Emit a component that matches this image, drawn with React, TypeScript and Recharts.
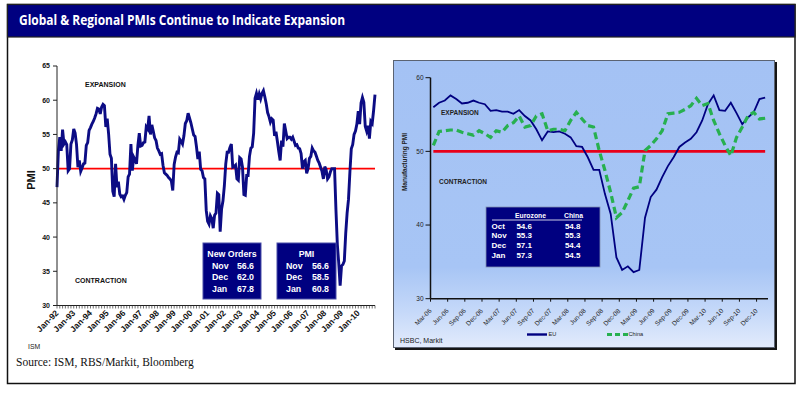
import React from "react";
import { LineChart, Line, XAxis, YAxis, ReferenceLine } from "recharts";

const MONTH_NAMES = ["Jan", "Feb", "Mar", "Apr", "May", "Jun", "Jul", "Aug", "Sep", "Oct", "Nov", "Dec"];

// ISM manufacturing PMI, monthly, Jan-92 .. Jan-11
const ism1992 = [47.3, 52.7, 54.6, 52.6, 55.7, 53.6, 53.9, 53.5, 49.7, 50.0, 53.6, 54.2];
const ism1993 = [55.8, 55.2, 53.5, 50.2, 51.2, 49.6, 50.1, 50.7, 50.8, 53.4, 53.8, 55.6];
const ism1994 = [56.0, 56.5, 56.9, 57.4, 58.0, 58.8, 58.7, 58.0, 59.0, 59.4, 59.2, 56.1];
const ism1995 = [57.3, 55.1, 52.1, 51.5, 46.7, 45.9, 50.7, 47.3, 48.1, 46.3, 45.9, 46.0];
const ism1996 = [45.5, 46.1, 46.5, 48.8, 49.2, 53.6, 49.7, 51.7, 51.3, 50.7, 53.4, 55.2];
const ism1997 = [53.3, 53.4, 53.8, 53.9, 56.1, 55.8, 57.7, 55.0, 56.4, 55.5, 54.5, 54.1];
const ism1998 = [53.0, 52.6, 52.1, 52.2, 50.5, 49.4, 49.2, 49.0, 48.7, 48.5, 48.2, 46.8];
const ism1999 = [50.6, 51.7, 52.4, 52.3, 54.3, 54.0, 53.6, 54.8, 56.6, 57.0, 58.1, 57.4];
const ism2000 = [56.7, 55.8, 54.9, 54.7, 53.2, 51.4, 52.5, 49.9, 49.7, 48.7, 48.5, 43.9];
const ism2001 = [42.3, 41.9, 43.1, 42.7, 41.3, 43.2, 43.5, 46.4, 46.2, 40.8, 44.1, 45.3];
const ism2002 = [47.5, 50.7, 52.4, 52.4, 53.1, 53.6, 50.2, 50.3, 50.5, 48.5, 48.3, 51.6];
const ism2003 = [51.4, 50.2, 46.2, 46.1, 49.0, 49.0, 51.8, 53.0, 53.2, 55.2, 60.3, 61.0];
const ism2004 = [60.1, 60.9, 60.2, 61.0, 61.4, 60.5, 59.5, 58.2, 57.6, 56.8, 57.3, 57.1];
const ism2005 = [54.8, 55.4, 54.0, 52.5, 51.2, 54.1, 53.2, 56.6, 55.5, 54.4, 54.6, 54.6];
const ism2006 = [54.3, 54.6, 54.0, 53.4, 53.5, 53.0, 52.9, 52.2, 50.0, 51.0, 51.2, 49.3];
const ism2007 = [50.0, 51.5, 51.8, 53.0, 52.6, 52.4, 51.8, 51.2, 50.8, 50.2, 49.6, 48.5];
const ism2008 = [50.3, 49.8, 48.5, 48.8, 49.5, 50.0, 50.0, 50.0, 44.0, 38.9, 36.2, 32.9];
const ism2009 = [35.8, 36.0, 36.5, 40.5, 43.5, 45.5, 49.5, 52.9, 53.5, 55.0, 55.5, 56.5];
const ism2010 = [58.4, 56.5, 59.6, 60.4, 59.7, 56.2, 55.5, 56.3, 54.4, 56.9, 56.6, 58.5];
const ism2011 = [60.8];

const ismTickLabels = [
  "Jan-92", "Jan-93", "Jan-94", "Jan-95", "Jan-96", "Jan-97", "Jan-98", "Jan-99", "Jan-00", "Jan-01",
  "Jan-02", "Jan-03", "Jan-04", "Jan-05", "Jan-06", "Jan-07", "Jan-08", "Jan-09", "Jan-10",
];
const ismYTicks = [30, 35, 40, 45, 50, 55, 60, 65];

// HSBC / Markit manufacturing PMI, monthly, Mar-06 .. Jan-11
const euPmi = [
  56.0, 56.6, 56.9, 57.6, 57.1, 56.5, 56.6, 56.9, 56.6, 56.4,
  55.5, 55.6, 55.4, 55.4, 55.1, 55.6, 54.8, 54.2, 53.0, 51.5, 52.7, 52.6,
  52.7, 52.4, 51.9, 50.7, 50.6, 49.2, 47.5, 47.5, 44.2, 41.5, 35.6, 33.9,
  34.4, 33.6, 33.9, 41.0, 43.8, 44.8, 46.5, 48.0, 49.2, 50.6, 51.2, 51.7,
  52.6, 54.2, 56.4, 57.6, 55.6, 55.5, 56.6, 55.2, 53.7, 54.6, 55.3, 57.1,
  57.3,
];
const chinaPmi = [
  50.8, 52.7, 52.8, 52.9, 52.9, 52.6, 52.4, 52.2, 52.8, 52.4,
  51.9, 52.8, 52.6, 53.5, 53.9, 54.8, 53.3, 53.5, 54.8, 55.1, 52.8, 53.0,
  53.0, 52.8, 54.2, 55.3, 54.4, 53.5, 53.3, 50.1, 47.4, 44.4, 41.0, 41.7,
  43.3, 45.0, 45.2, 50.1, 50.8, 51.7, 52.8, 55.1, 55.2, 55.3, 55.7, 56.2,
  57.2, 56.2, 56.5, 54.2, 52.4, 50.8, 49.4, 51.9, 53.3, 54.8, 55.3, 54.4,
  54.5,
];
const hsbcTickLabels = [
  "Mar-06", "Jun-06", "Sep-06", "Dec-06", "Mar-07", "Jun-07", "Sep-07", "Dec-07", "Mar-08", "Jun-08",
  "Sep-08", "Dec-08", "Mar-09", "Jun-09", "Sep-09", "Dec-09", "Mar-10", "Jun-10", "Sep-10", "Dec-10",
];
const hsbcYTicks = [30, 40, 50, 60];

const tableMonths = ["Oct", "Nov", "Dec", "Jan"];
const tableEurozone = ["54.6", "55.3", "57.1", "57.3"];
const tableChina = ["54.8", "55.3", "54.4", "54.5"];
const newOrdersRows = [["Nov", "56.6"], ["Dec", "62.0"], ["Jan", "67.8"]];
const pmiRows = [["Nov", "56.6"], ["Dec", "58.5"], ["Jan", "60.8"]];

const monthLabel = (startYear: number, offset: number) =>
  `${MONTH_NAMES[offset % 12]}-${String((startYear + Math.floor(offset / 12)) % 100).padStart(2, "0")}`;

const ismValues = [
  ...ism1992, ...ism1993, ...ism1994, ...ism1995, ...ism1996, ...ism1997, ...ism1998, ...ism1999, ...ism2000,
  ...ism2001, ...ism2002, ...ism2003, ...ism2004, ...ism2005, ...ism2006, ...ism2007, ...ism2008, ...ism2009,
  ...ism2010, ...ism2011,
];
const ismData = ismValues.map((pmi, i) => ({ month: monthLabel(1992, i), pmi }));
// Mar-06 is month index 2 of 2006
const hsbcData = euPmi.map((eu, i) => ({ month: monthLabel(2006, i + 2), eu, china: chinaPmi[i] }));

const FONT = '"Liberation Sans", Arial, sans-serif';
const NAVY = "#000080";
const HSBC_PAD = 2.85;

function IsmTick(props: any) {
  const { x, y, payload, index } = props;
  const label: string = payload.value;
  return (
    <g>
      {index % 2 === 0 && <line x1={x} y1={y} x2={x} y2={y + 3} stroke="#333" strokeWidth={0.7} />}
      {ismTickLabels.includes(label) && (
        <text x={x} y={y + 6} dy="0.35em" transform={`rotate(-45 ${x} ${y + 6})`} textAnchor="end"
          fontSize={8.5} fontWeight="bold" fill="#111" fontFamily={FONT}>{label}</text>
      )}
    </g>
  );
}

function HsbcTick(props: any) {
  const { x, y, payload } = props;
  const label: string = payload.value;
  if (!hsbcTickLabels.includes(label)) return <g />;
  return (
    <g>
      <line x1={x - HSBC_PAD} y1={y} x2={x - HSBC_PAD} y2={y + 3} stroke="#111" strokeWidth={1} />
      <text x={x - 3} y={y + 11} dy="0.35em" transform={`rotate(-45 ${x - 3} ${y + 11})`} textAnchor="end"
        fontSize={6.5} fill="#222" fontFamily={FONT}>{label}</text>
    </g>
  );
}

function NoteBox({ x, y, w, h, title, rows }: { x: number; y: number; w: number; h: number; title: string; rows: string[][] }) {
  return (
    <g fontFamily={FONT} fontWeight="bold" fill="#fff" fontSize={8.8}>
      <rect x={x} y={y} width={w} height={h} fill={NAVY} stroke="#4a4ea8" strokeWidth={1} />
      <text x={x + w / 2} y={y + 14} textAnchor="middle">{title}</text>
      {rows.map((r, i) => (
        <g key={r[0]}>
          <text x={x + 9} y={y + 25.5 + i * 11.5}>{r[0]}</text>
          <text x={x + w - 7} y={y + 25.5 + i * 11.5} textAnchor="end">{r[1]}</text>
        </g>
      ))}
    </g>
  );
}

export default function App() {
  return (
    <div style={{ position: "absolute", left: 0, top: 0, width: 800, height: 393, background: "#fff", overflow: "hidden" }}>
      <div style={{
        position: "absolute", left: 393, top: 60, width: 382, height: 288, boxSizing: "border-box",
        border: "1px solid #5b6372", boxShadow: "2px 2px 0 #151515",
        background: "linear-gradient(to bottom, #a4c2f4 0%, #a7c5f5 72%, #c6d9f9 88%, #e2ebfc 100%)",
      }} />

      <div style={{ position: "absolute", left: 0, top: 0 }}>
        <LineChart width={390} height={340} data={ismData} margin={{ top: 66, right: 15, bottom: 0, left: 0 }}>
          <XAxis dataKey="month" interval={0} tickSize={0} tickMargin={0} tick={<IsmTick />} height={34.5}
            axisLine={{ stroke: "#222", strokeWidth: 1 }} tickLine={false} />
          <YAxis domain={[30, 65]} ticks={ismYTicks} width={57} tickSize={4} tickMargin={3}
            tick={{ fontSize: 7, fontWeight: "bold", fill: "#111", fontFamily: FONT }}
            axisLine={{ stroke: "#222" }} tickLine={{ stroke: "#222" }} />
          <ReferenceLine y={50} stroke="#ff0000" strokeWidth={1.8} />
          <Line dataKey="pmi" stroke="#0c0c84" strokeWidth={2.9} dot={false} isAnimationActive={false} />
        </LineChart>
      </div>

      <div style={{ position: "absolute", left: 393, top: 60 }}>
        <LineChart width={382} height={288} data={hsbcData} margin={{ top: 17.7, right: 7, bottom: 0, left: 0 }}>
          <XAxis dataKey="month" interval={0} tickSize={0} tickMargin={0} tick={<HsbcTick />} height={49.3}
            padding={{ left: HSBC_PAD, right: HSBC_PAD }} axisLine={{ stroke: "#111", strokeWidth: 1.5 }} tickLine={false} />
          <YAxis domain={[30, 60]} ticks={hsbcYTicks} width={37.5} tickSize={5} tickMargin={2}
            tick={{ fontSize: 6.5, fill: "#222", fontFamily: FONT }}
            axisLine={{ stroke: "#111", strokeWidth: 1.5 }} tickLine={{ stroke: "#111" }} />
          <ReferenceLine segment={[{ x: hsbcData[0].month, y: 50 }, { x: hsbcData[hsbcData.length - 1].month, y: 50 }]}
            stroke="#e8001a" strokeWidth={2.6} />
          <Line dataKey="eu" stroke={NAVY} strokeWidth={1.8} dot={false} isAnimationActive={false} />
          <Line dataKey="china" stroke="#27b04f" strokeWidth={3.2} strokeDasharray="7 4" dot={false} isAnimationActive={false} />
        </LineChart>
      </div>

      <svg width={800} height={393} style={{ position: "absolute", left: 0, top: 0, pointerEvents: "none" }} fontFamily={FONT}>
        <rect x={7.5} y={4.5} width={787.5} height={379} fill="none" stroke="#111" strokeWidth={1.5} />
        <rect x={7.5} y={4.5} width={787.5} height={32.5} fill={NAVY} stroke="#222" strokeWidth={1.2} />
        <text x={19} y={25} fill="#fff" fontSize={14} fontWeight="bold" fontFamily='"Open Sans", sans-serif'
          textLength={326} lengthAdjust="spacingAndGlyphs">Global &amp; Regional PMIs Continue to Indicate Expansion</text>

        <text x={31} y={180} transform="rotate(-90 31 180)" textAnchor="middle" dy="0.35em" fontSize={11} fontWeight="bold" fill="#111">PMI</text>
        <text x={85} y={85} dy="0.35em" fontSize={7} fontWeight="bold" fill="#111">EXPANSION</text>
        <text x={75} y={281} dy="0.35em" fontSize={7} fontWeight="bold" fill="#111">CONTRACTION</text>

        <NoteBox x={203} y={243} w={58} h={56} title="New Orders" rows={newOrdersRows} />
        <NoteBox x={277} y={243} w={59} h={56} title="PMI" rows={pmiRows} />

        <text x={28} y={347} dy="0.35em" fontSize={6.8} fill="#222">ISM</text>
        <text x={16} y={366} fontSize={11.5} fill="#111" fontFamily='"Liberation Serif", "Times New Roman", serif'>Source: ISM, RBS/Markit, Bloomberg</text>

        <text x={405} y={162} transform="rotate(-90 405 162)" textAnchor="middle" dy="0.35em" fontSize={6.5} fontWeight="bold" fill="#222">Manufacturing PMI</text>
        <text x={441} y={113} dy="0.35em" fontSize={6.5} fontWeight="bold" fill="#222">EXPANSION</text>
        <text x={439} y={182} dy="0.35em" fontSize={6.5} fontWeight="bold" fill="#222">CONTRACTION</text>

        <g fontWeight="bold" fill="#fff" fontSize={8}>
          <rect x={486} y={207} width={114} height={60} fill={NAVY} stroke="#8090b0" strokeWidth={0.8} />
          <text x={515} y={218} textLength={31} lengthAdjust="spacingAndGlyphs">Eurozone</text>
          <text x={564} y={218} textLength={19} lengthAdjust="spacingAndGlyphs">China</text>
          <line x1={492} y1={220} x2={582} y2={220} stroke="#fff" strokeWidth={0.8} />
          {tableMonths.map((m, i) => (
            <g key={m}>
              <text x={491.5} y={228.5 + i * 9.8}>{m}</text>
              <text x={532} y={228.5 + i * 9.8} textAnchor="end">{tableEurozone[i]}</text>
              <text x={580.5} y={228.5 + i * 9.8} textAnchor="end">{tableChina[i]}</text>
            </g>
          ))}
        </g>

        <line x1={527} y1={334.5} x2={547} y2={334.5} stroke={NAVY} strokeWidth={2.4} />
        <text x={548.5} y={334.5} dy="0.35em" fontSize={5.6} fill="#222">EU</text>
        <line x1={607} y1={334.5} x2={628} y2={334.5} stroke="#27b04f" strokeWidth={3} strokeDasharray="5 3" />
        <text x={628.5} y={334.5} dy="0.35em" fontSize={5.6} fill="#222">China</text>
        <text x={400} y={340.5} dy="0.35em" fontSize={7} fill="#222">HSBC, Markit</text>
      </svg>
    </div>
  );
}
